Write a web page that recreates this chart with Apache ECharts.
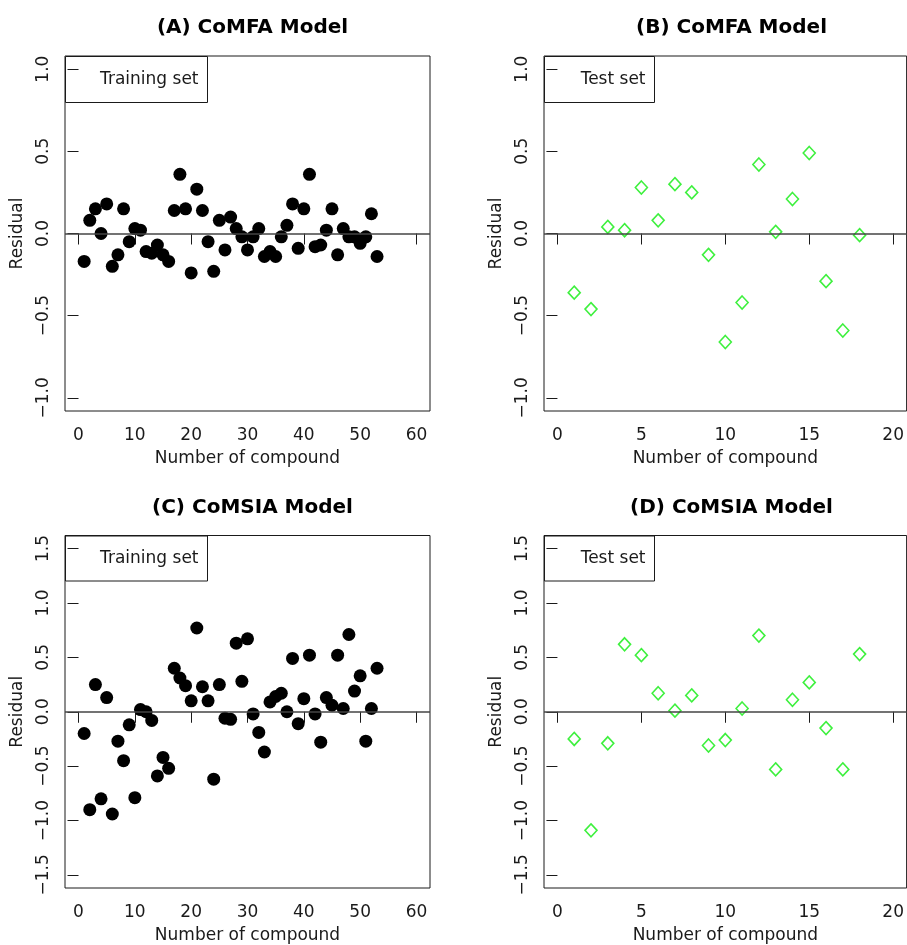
<!DOCTYPE html>
<html>
<head>
<meta charset="utf-8">
<title>Residual plots</title>
<script src="https://cdn.jsdelivr.net/npm/echarts@6.0.0/dist/echarts.min.js"></script>
<style>
  body { margin: 0; background: #fff; }
  #chart01 { width: 907px; height: 945px; }
</style>
</head>
<body>
<div id="chart01"></div>
<script>
// residuals, one value per compound
var comfaTrain = [-0.17, 0.08, 0.15, 0.00, 0.18, -0.20, -0.13, 0.15, -0.05, 0.03,
    0.02, -0.11, -0.12, -0.07, -0.13, -0.17, 0.14, 0.36, 0.15, -0.24,
    0.27, 0.14, -0.05, -0.23, 0.08, -0.10, 0.10, 0.03, -0.02, -0.10,
    -0.02, 0.03, -0.14, -0.11, -0.14, -0.02, 0.05, 0.18, -0.09, 0.15,
    0.36, -0.08, -0.07, 0.02, 0.15, -0.13, 0.03, -0.02, -0.02, -0.06,
    -0.02, 0.12, -0.14];
var comfaTest = [-0.36, -0.46, 0.04, 0.02, 0.28, 0.08, 0.30, 0.25, -0.13, -0.66,
    -0.42, 0.42, 0.01, 0.21, 0.49, -0.29, -0.59, -0.01];
var comsiaTrain = [-0.20, -0.90, 0.25, -0.80, 0.13, -0.94, -0.27, -0.45, -0.12, -0.79,
    0.02, 0.00, -0.08, -0.59, -0.42, -0.52, 0.40, 0.31, 0.24, 0.10,
    0.77, 0.23, 0.10, -0.62, 0.25, -0.06, -0.07, 0.63, 0.28, 0.67,
    -0.02, -0.19, -0.37, 0.09, 0.14, 0.17, 0.00, 0.49, -0.11, 0.12,
    0.52, -0.02, -0.28, 0.13, 0.06, 0.52, 0.03, 0.71, 0.19, 0.33,
    -0.27, 0.03, 0.40];
var comsiaTest = [-0.25, -1.09, -0.29, 0.62, 0.52, 0.17, 0.01, 0.15, -0.31, -0.26,
    0.03, 0.70, -0.53, 0.11, 0.27, -0.15, -0.53, 0.53];

// tick labels
var xTicksTrain = [0, 10, 20, 30, 40, 50, 60];
var xTicksTest = [0, 5, 10, 15, 20];
var yTicksComfa = [-1, -0.5, 0, 0.5, 1];
var yTicksComsia = [-1.5, -1, -0.5, 0, 0.5, 1, 1.5];

var panelTitles = ['(A) CoMFA Model', '(B) CoMFA Model', '(C) CoMSIA Model', '(D) CoMSIA Model'];
var boxLabels = ['Training set', 'Test set', 'Training set', 'Test set'];

var FONT = 'DejaVu Sans';
var INK = '#1a1a1a';

function toPoints(values) {
    var pts = [];
    for (var i = 0; i < values.length; i++) {
        pts.push([i + 1, values[i]]);
    }
    return pts;
}

function fmtY(v) {
    var s = Math.abs(v).toFixed(1);
    return v < 0 ? '\u2212' + s : s;
}

// panel layout (R style box with 4% padding on both axes)
var grids = [
    { left: 65, top: 56, width: 365, height: 355 },
    { left: 544, top: 56, width: 365, height: 355 },
    { left: 65, top: 535.5, width: 365, height: 356 },
    { left: 544, top: 535.5, width: 365, height: 356 }
];
// size of the boxed label in each panel's top left corner
var boxSizes = [[142, 46], [110, 46], [142, 45], [110, 45]];

function xAxisFor(idx, min, max, ticks) {
    return {
        type: 'value',
        gridIndex: idx,
        min: min,
        max: max,
        name: 'Number of compound',
        nameLocation: 'middle',
        nameGap: 39,
        nameTextStyle: { fontFamily: FONT, fontSize: 17, color: INK },
        axisLine: { show: false },
        axisTick: { show: true, length: 11, customValues: ticks, lineStyle: { color: INK } },
        axisLabel: { customValues: ticks, margin: 16, fontFamily: FONT, fontSize: 17, color: INK },
        splitLine: { show: false }
    };
}

function yAxisFor(idx, min, max, ticks) {
    return {
        type: 'value',
        gridIndex: idx,
        min: min,
        max: max,
        name: 'Residual',
        nameLocation: 'middle',
        nameRotate: 90,
        nameGap: 39,
        nameTextStyle: { fontFamily: FONT, fontSize: 17, color: INK },
        axisLine: { show: false },
        axisTick: { show: true, length: 11, customValues: ticks, lineStyle: { color: INK } },
        axisLabel: {
            customValues: ticks, rotate: 90, margin: 13,
            fontFamily: FONT, fontSize: 17, color: INK,
            formatter: fmtY
        },
        splitLine: { show: false }
    };
}

var zeroLine = {
    silent: true,
    symbol: 'none',
    label: { show: false },
    lineStyle: { color: '#444', width: 1.5, type: 'solid' },
    data: [{ yAxis: 0 }]
};

function trainSeries(idx, values) {
    return {
        type: 'scatter',
        xAxisIndex: idx,
        yAxisIndex: idx,
        symbol: 'circle',
        symbolSize: 13,
        itemStyle: { color: '#000', opacity: 1 },
        data: toPoints(values),
        markLine: zeroLine
    };
}

function testSeries(idx, values) {
    return {
        type: 'scatter',
        xAxisIndex: idx,
        yAxisIndex: idx,
        symbol: 'diamond',
        symbolSize: [12, 13],
        itemStyle: { color: 'rgba(255,255,255,0)', borderColor: '#3ef03e', borderWidth: 1.6, opacity: 1 },
        data: toPoints(values),
        markLine: zeroLine
    };
}

var titles = [];
var boxes = [];
for (var i = 0; i < 4; i++) {
    var g = grids[i];
    titles.push({
        text: panelTitles[i],
        left: g.left + g.width / 2,
        top: g.top - 43,
        textAlign: 'center',
        textStyle: { fontFamily: FONT, fontSize: 20, fontWeight: 'bold', color: '#000' }
    });
    var bw = boxSizes[i][0], bh = boxSizes[i][1];
    boxes.push({
        type: 'group',
        left: g.left,
        top: g.top,
        children: [
            {
                type: 'rect',
                shape: { x: 0, y: 0, width: bw, height: bh },
                style: { fill: '#fff', stroke: INK, lineWidth: 1 }
            },
            {
                type: 'text',
                x: bw - 9,
                y: bh / 2,
                style: {
                    text: boxLabels[i], fill: INK, font: '17px "DejaVu Sans"',
                    textAlign: 'right', textVerticalAlign: 'middle'
                }
            }
        ]
    });
}

var myChart01 = echarts.init(document.getElementById('chart01'), null, { renderer: 'canvas' });
var option = {
    backgroundColor: '#fff',
    animation: false,
    title: titles,
    graphic: boxes,
    grid: grids.map(function (g) {
        return { left: g.left, top: g.top, width: g.width, height: g.height, show: true,
            borderColor: INK, borderWidth: 1, backgroundColor: 'transparent' };
    }),
    xAxis: [
        xAxisFor(0, -2.4, 62.4, xTicksTrain),
        xAxisFor(1, -0.8, 20.8, xTicksTest),
        xAxisFor(2, -2.4, 62.4, xTicksTrain),
        xAxisFor(3, -0.8, 20.8, xTicksTest)
    ],
    yAxis: [
        yAxisFor(0, -1.08, 1.08, yTicksComfa),
        yAxisFor(1, -1.08, 1.08, yTicksComfa),
        yAxisFor(2, -1.62, 1.62, yTicksComsia),
        yAxisFor(3, -1.62, 1.62, yTicksComsia)
    ],
    series: [
        trainSeries(0, comfaTrain),
        testSeries(1, comfaTest),
        trainSeries(2, comsiaTrain),
        testSeries(3, comsiaTest)
    ]
};
myChart01.setOption(option);
</script>
</body>
</html>
